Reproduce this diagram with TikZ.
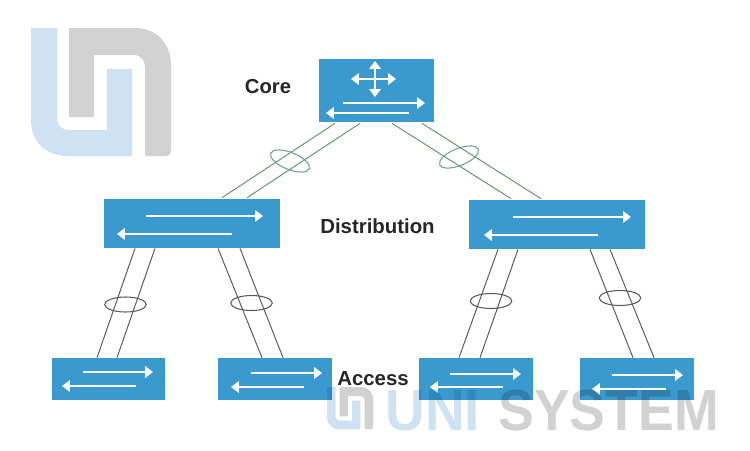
\documentclass[tikz,border=0pt]{standalone}
\usepackage{fontspec}
\setmainfont{Liberation Sans}
\usepackage{tikz}
\usetikzlibrary{calc, positioning}
\usetikzlibrary{arrows.meta}
\usetikzlibrary{shapes.geometric}
\definecolor{swblue}{HTML}{3A9AD0}
\definecolor{logoblue}{HTML}{CFE2F1}
\definecolor{logogray}{HTML}{D2D2D2}
\definecolor{corelink}{HTML}{5F9A62}
\definecolor{corering}{HTML}{6C9EA2}
\definecolor{acclink}{HTML}{5A5A5A}
\tikzset{
	switchbox/.style={fill=swblue, draw=none, inner sep=0pt},
	corelinkline/.style={color=corelink, line width=0.55pt},
	acclinkline/.style={color=acclink, line width=0.55pt},
	ring/.style={ellipse, draw, fill=none, inner sep=0pt, minimum width=1.6cm*0.52, minimum height=0.3cm, line width=0.6pt},
	flow/.style={white, line width=1.3pt, -{Triangle[length=4.5pt, width=6.5pt]}},
	crossflow/.style={white, line width=1.5pt, {Triangle[length=4.5pt, width=6.5pt]}-{Triangle[length=4.5pt, width=6.5pt]}},
	tier/.style={font=\bfseries, text=black!85, inner sep=0pt},
	brandword/.style={font=\bfseries\fontsize{33pt}{33pt}\selectfont, inner sep=0pt, anchor=base west},
	unilogo/.pic={
		\fill[logoblue] (31,28) -- (57,28) -- (57,118) .. controls (57,126) and (62,130) .. (70,130) -- (107,130) -- (107,69) -- (132,69) -- (132,156) -- (68,156) .. controls (46,156) and (31,142) .. (31,120) -- cycle;
		\fill[logogray] (69,28) -- (135,28) .. controls (157,28) and (171,44) .. (171,65) -- (171,150) .. controls (171,154) and (169,156) .. (165,156) -- (145,156) -- (145,68) .. controls (145,60) and (141,55) .. (133,55) -- (94,55) -- (94,117) -- (69,117) -- cycle;
	}
}
\begin{document}
\begin{tikzpicture}[x=0.02cm, y=-0.02cm]
	\useasboundingbox[fill=white] (0,0) rectangle (750,450);
	\pic at (0,0) {unilogo};

	\node[switchbox, minimum width=2.3cm, minimum height=1.26cm] (core) at (376.5,90.5) {};
	\node[switchbox, minimum width=3.52cm, minimum height=0.98cm] (distl) at (192,223.5) {};
	\node[switchbox, minimum width=3.52cm, minimum height=0.98cm] (distr) at (557,224.5) {};
	\node[switchbox, minimum width=2.28cm, minimum height=0.84cm] (acca) at (108.5,379) {};
	\node[switchbox, minimum width=2.28cm, minimum height=0.84cm] (accb) at (275,379) {};
	\node[switchbox, minimum width=2.28cm, minimum height=0.84cm] (accc) at (476,379) {};
	\node[switchbox, minimum width=2.28cm, minimum height=0.84cm] (accd) at (637,379) {};

	\node[tier, font=\bfseries\fontsize{11.5pt}{12pt}\selectfont] (corelabel) at (268,87) {Core};
	\node[tier, font=\bfseries\fontsize{11.6pt}{12pt}\selectfont] (distlabel) at (377.5,226.5) {Distribution};
	\node[tier, font=\bfseries\fontsize{11.6pt}{12pt}\selectfont] (acclabel) at (373,379) {Access};

	\draw[corelinkline] ($(core.south)+(-41.5,1)$) -- ($(distl.north)+(30,-1)$);
	\draw[corelinkline] ($(core.south)+(-16.5,1)$) -- ($(distl.north)+(55,-1)$);
	\draw[corelinkline] ($(core.south)+(15.5,1)$) -- ($(distr.north)+(-46,-1)$);
	\draw[corelinkline] ($(core.south)+(45.5,1)$) -- ($(distr.north)+(-16,-1)$);

	\draw[acclinkline] ($(distl.south)+(-57,0)$) -- ($(acca.north)+(-11.5,0)$);
	\draw[acclinkline] ($(distl.south)+(-37,0)$) -- ($(acca.north)+(8.5,0)$);
	\draw[acclinkline] ($(distl.south)+(26,0)$) -- ($(accb.north)+(-13,0)$);
	\draw[acclinkline] ($(distl.south)+(48,0)$) -- ($(accb.north)+(8,0)$);
	\draw[acclinkline] ($(distr.south)+(-59,0)$) -- ($(accc.north)+(-17,0)$);
	\draw[acclinkline] ($(distr.south)+(-39,0)$) -- ($(accc.north)+(4,0)$);
	\draw[acclinkline] ($(distr.south)+(33,0)$) -- ($(accd.north)+(-4,0)$);
	\draw[acclinkline] ($(distr.south)+(53,0)$) -- ($(accd.north)+(17,0)$);

	\node[ring, draw=corering, rotate=-22, minimum height=0.34cm] (ringl) at (290,161) {};
	\node[ring, draw=corering, rotate=22, minimum height=0.34cm] (ringr) at (459,157) {};
	\foreach \n/\x/\y in {a/125.5/304.5, b/251.5/303, c/491/301, d/620/298}
		\node[ring, draw=acclink] (ring\n) at (\x,\y) {};

	\foreach \xa/\xb/\ya in {343/425/103, 146/263/216, 513/631/217, 83/153/372, 251/322/373, 450/521/374, 612/683/375}
		\draw[flow] (\xa,\ya) -- (\xb,\ya);
	\foreach \xa/\xb/\ya in {409/326/113, 232/117/234, 598/484/235, 136/62/386, 304/231/387, 503/430/387, 666/592/389}
		\draw[flow] (\xa,\ya) -- (\xb,\ya);
	\draw[crossflow] (351,79) -- (396,79);
	\draw[crossflow] (375,61) -- (375,97);

	\begin{scope}[blend mode=multiply]
		\pic[scale=0.328] at (317,378) {unilogo};
		\node[brandword, text=logoblue, xscale=0.95] (uniword) at (385,430) {UNI};
		\node[brandword, text=logogray, xscale=0.925] (sysword) at (498,430) {SYSTEM};
	\end{scope}
\end{tikzpicture}
\end{document}
